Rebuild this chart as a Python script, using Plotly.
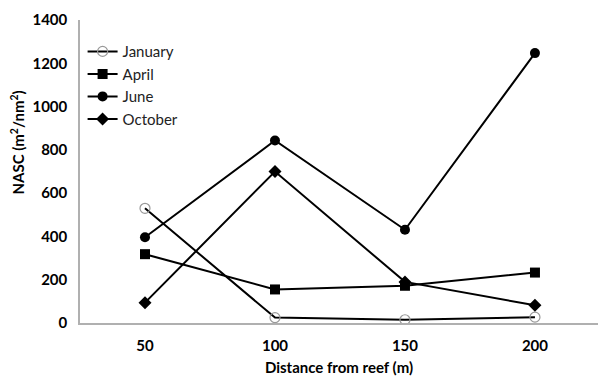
import plotly.graph_objects as go

distances = ["50", "100", "150", "200"]
january = [530, 25, 15, 27]
april = [318, 155, 172, 233]
june = [396, 843, 431, 1247]
october = [94, 700, 190, 82]

y_ticks = [0, 200, 400, 600, 800, 1000, 1200, 1400]

series = [
    ("January", january, dict(symbol="circle-open", size=10, color="#999999", line=dict(width=1.2, color="#999999"))),
    ("April", april, dict(symbol="square", size=10, color="black")),
    ("June", june, dict(symbol="circle", size=10, color="black")),
    ("October", october, dict(symbol="diamond", size=10, color="black")),
]

fig = go.Figure()
for name, vals, marker in series:
    fig.add_trace(go.Scatter(
        x=distances, y=vals, name=name, mode="lines+markers",
        line=dict(color="black", width=2), marker=marker,
    ))

fig.update_layout(
    width=598, height=376,
    margin=dict(l=80, r=0, t=20, b=53),
    paper_bgcolor="white", plot_bgcolor="white",
    font=dict(family="Lato, Open Sans, sans-serif", color="black"),
    showlegend=True,
    legend=dict(
        x=0.005, y=0.95, xanchor="left", yanchor="top",
        font=dict(size=15, color="#222222"),
        bgcolor="rgba(0,0,0,0)", itemwidth=30, tracegroupgap=0,
    ),
    annotations=[dict(
        text="<b>NASC (m<sup>2</sup>/nm<sup>2</sup>)</b>",
        xref="paper", yref="paper", x=-0.12, y=0.595,
        xanchor="center", yanchor="middle", textangle=-90,
        showarrow=False, font=dict(size=15, color="black"),
    )],
)
fig.update_xaxes(
    type="category", range=[-0.5, 3.485],
    showline=True, linecolor="#b0b0b0", linewidth=1.5,
    showgrid=False, zeroline=False,
    ticks="outside", ticklen=8, tickcolor="rgba(0,0,0,0)",
    tickfont=dict(size=15, weight="bold"),
    title=dict(text="<b>Distance from reef (m)</b>", font=dict(size=15), standoff=12),
)
fig.update_yaxes(
    range=[0, 1400], tickvals=y_ticks,
    showline=True, linecolor="#b0b0b0", linewidth=1.5,
    showgrid=False, zeroline=False,
    ticks="outside", ticklen=8, tickcolor="rgba(0,0,0,0)",
    tickfont=dict(size=15, weight="bold"),
)

fig.write_html("out.html")
